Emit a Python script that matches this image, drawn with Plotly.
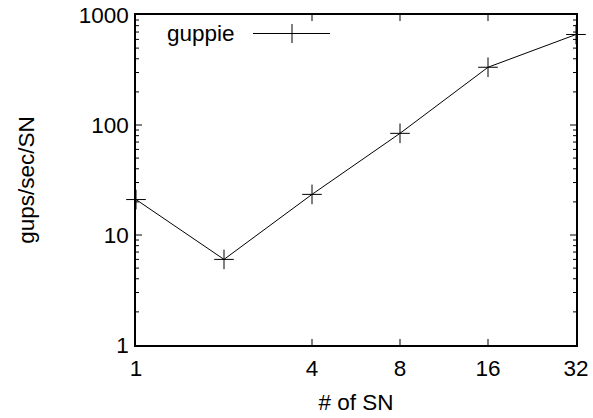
import plotly.graph_objects as go

# Data
sn_counts = [1, 2, 4, 8, 16, 32]
gups_per_sec_per_sn = [21, 6, 23.4, 84, 335, 665]
x_tick_vals = [1, 4, 8, 16, 32]
x_tick_text = ["1", "4", "8", "16", "32"]
y_tick_vals = [1, 10, 100, 1000]
y_tick_text = ["1", "10", "100", "1000"]
y_minor_vals = [m * d for d in (1, 10, 100) for m in range(2, 10)]
series_name = "guppie"

FONT = "Liberation Sans, Arial, sans-serif"
FS = 22.5

fig = go.Figure()
fig.add_trace(go.Scatter(
    x=sn_counts, y=gups_per_sec_per_sn, mode="lines+markers", name=series_name,
    line=dict(color="black", width=1),
    marker=dict(symbol="cross-thin", size=14, color="black",
                line=dict(color="black", width=1)),
    cliponaxis=False, showlegend=False,
))

# plot-area geometry (pixels)
L, R, T, B = 136, 576, 15, 345
W, H = R - L, B - T
def px(x):
    return (x - L) / W
def py(y):
    return (B - y) / H

# custom legend (text, then line sample with marker), gnuplot style
ly = 33.5
fig.add_annotation(x=px(165), y=py(ly), xref="paper", yref="paper",
                   text=series_name, showarrow=False, xanchor="left", yanchor="middle",
                   font=dict(family=FONT, size=FS, color="black"))
fig.add_shape(type="line", xref="paper", yref="paper",
              x0=px(253), x1=px(330), y0=py(ly), y1=py(ly),
              line=dict(color="black", width=1))
cx = 292
fig.add_shape(type="line", xref="paper", yref="paper",
              x0=px(cx - 9.5), x1=px(cx + 9.5), y0=py(ly), y1=py(ly),
              line=dict(color="black", width=1))
fig.add_shape(type="line", xref="paper", yref="paper",
              x0=px(cx), x1=px(cx), y0=py(ly - 9.5), y1=py(ly + 9.5),
              line=dict(color="black", width=1))

# inside ticks on all four sides (gnuplot border style); shapes take data values
MAJ, MIN = 6, 3
tick_line = dict(color="black", width=1)
for v in x_tick_vals[1:-1]:
    fig.add_shape(type="line", xref="x", yref="paper", x0=v, x1=v,
                  y0=0, y1=MAJ / H, line=tick_line)
    fig.add_shape(type="line", xref="x", yref="paper", x0=v, x1=v,
                  y0=1, y1=1 - MAJ / H, line=tick_line)
for vals, ln in ((y_tick_vals[1:-1], MAJ), (y_minor_vals, MIN)):
    for v in vals:
        fig.add_shape(type="line", xref="paper", yref="y", y0=v, y1=v,
                      x0=0, x1=ln / W, line=tick_line)
        fig.add_shape(type="line", xref="paper", yref="y", y0=v, y1=v,
                      x0=1, x1=1 - ln / W, line=tick_line)

axis_common = dict(
    showline=True, linecolor="black", linewidth=1.5, mirror=True,
    ticks="", showgrid=False, zeroline=False, automargin=False,
    tickfont=dict(family=FONT, size=FS, color="black"),
)

fig.update_layout(
    xaxis=dict(
        type="log", range=[0, 1.50515],
        tickmode="array", tickvals=x_tick_vals, ticktext=x_tick_text,
        ticklabelstandoff=2,
        title=dict(text="# of SN", font=dict(family=FONT, size=FS, color="black"), standoff=14),
        **axis_common,
    ),
    yaxis=dict(
        type="log", range=[0, 3],
        tickmode="array", tickvals=y_tick_vals, ticktext=y_tick_text,
        ticklabelstandoff=1,
        title=dict(text="gups/sec/SN", font=dict(family=FONT, size=FS, color="black"), standoff=38),
        **axis_common,
    ),
)

fig.update_layout(
    width=593, height=418,
    margin=dict(l=L, r=593 - R, t=T, b=418 - B),
    paper_bgcolor="white", plot_bgcolor="white",
    font=dict(family=FONT, size=FS, color="black"),
)

fig.write_html("out.html")
